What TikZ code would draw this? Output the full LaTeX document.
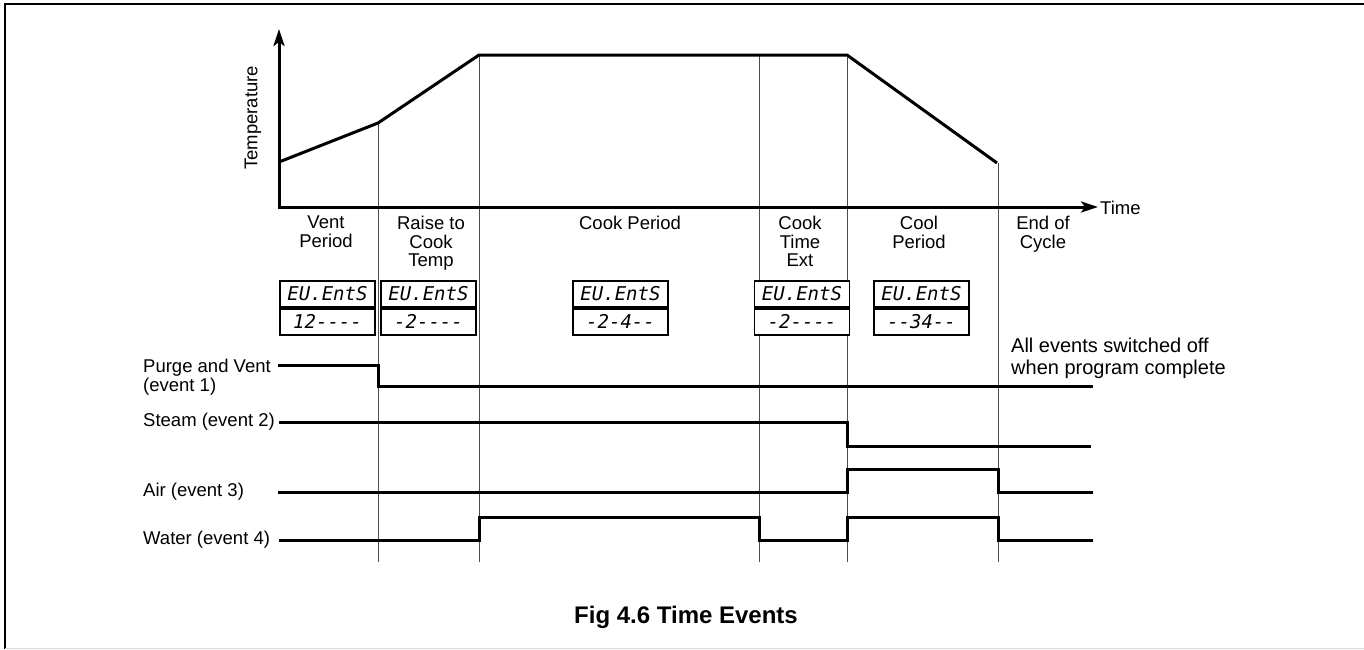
\documentclass[tikz,border=0pt]{standalone}
\usepackage{fontspec}
\setmainfont{Liberation Sans}
\newfontfamily\segfont{DejaVu Sans Mono}
\usetikzlibrary{positioning, arrows.meta, calc}

\tikzset{
  gridline/.style={line width=0.9pt, black!70},
  trace/.style={line width=3pt, line join=miter},
  phase/.style={font=\fontsize{18.5}{18.5}\selectfont, align=center, inner sep=0pt, anchor=north},
  evlabel/.style={font=\fontsize{18.5}{18.5}\selectfont, align=left, inner sep=0pt},
  segbox/.style={draw, line width=1.8pt, fill=white, minimum width=95pt, minimum height=26pt,
                 inner sep=0pt, font=\segfont\itshape\fontsize{19}{19}\selectfont},
  axistip/.tip={Stealth[length=17pt, width=11pt, inset=4pt]},
}

\begin{document}
\begin{tikzpicture}[x=1pt, y=-1pt]
  \useasboundingbox (0,0) rectangle (1364,649);

  % frame
  \draw[line width=2pt] (5,649) -- (5,4) -- (1364,4);
  \draw[black!15, line width=0.8pt] (5,648) -- (1364,648);

  % phase boundaries
  \draw[gridline] (378,123) -- (378,562);
  \draw[gridline] (479,55) -- (479,562);
  \draw[gridline] (759,55) -- (759,562);
  \draw[gridline] (847,55) -- (847,562);
  \draw[gridline] (998,163) -- (998,562);

  % axes and temperature profile
  \draw[line width=3pt, line join=miter, axistip-axistip]
    (279,29) -- (279,207) -- (1098,207);
  \draw[line width=3pt, line join=miter] (279,162) -- (378,123) -- (479,55) -- (847,55) -- (997,163);
  \node[font=\fontsize{18.5}{18.5}\selectfont, rotate=90] (temp) at (253,118) {Temperature};
  \node[font=\fontsize{18.5}{18.5}\selectfont, anchor=west, inner sep=0pt] (time) at (1100,208) {Time};

  % phase names
  \node[phase] (vent) at (326,216) {Vent\\Period};
  \node[phase] (raise) at (431,216) {Raise to\\Cook\\Temp};
  \node[phase] (cook) at (630,216) {Cook Period};
  \node[phase] (ext) at (800,216) {Cook\\Time\\Ext};
  \node[phase] (cool) at (919,216) {Cool\\Period};
  \node[phase] (endc) at (1043,216) {End of\\Cycle};

  % event displays
  \node[segbox] (d1) at (327.5,294) {EU.EntS};
  \node[segbox, below=0pt of d1] (d1b) {12----};
  \node[segbox] (d2) at (428.5,294) {EU.EntS};
  \node[segbox, below=0pt of d2] (d2b) {-2----};
  \node[segbox] (d3) at (620.5,294) {EU.EntS};
  \node[segbox, below=0pt of d3] (d3b) {-2-4--};
  \node[segbox] (d4) at (802,294) {EU.EntS};
  \node[segbox, below=0pt of d4] (d4b) {-2----};
  \node[segbox] (d5) at (921.5,294) {EU.EntS};
  \node[segbox, below=0pt of d5] (d5b) {--34--};

  \node[evlabel, anchor=base west, font=\fontsize{20}{21.5}\selectfont] (note) at (1011,374)
    {All events switched off\\when program complete};

  % event traces
  \node[evlabel, anchor=base west] (purge) at (143,391) {Purge and Vent\\(event 1)};
  \node[evlabel, anchor=west] (steam) at (143,422) {Steam (event 2)};
  \node[evlabel, anchor=west] (air) at (143,492) {Air (event 3)};
  \node[evlabel, anchor=west] (water) at (143,540) {Water (event 4)};

  \draw[trace] (278,365) -- (378,365) -- (378,386) -- (1093,386);
  \draw[trace] (279,422) -- (847,422) -- (847,446) -- (1091,446);
  \draw[trace] (278,492) -- (847,492) -- (847,469) -- (998,469) -- (998,492) -- (1093,492);
  \draw[trace] (279,540) -- (479,540) -- (479,517) -- (759,517) -- (759,540) -- (847,540)
    -- (847,517) -- (998,517) -- (998,540) -- (1093,540);

  \node[font=\bfseries\fontsize{24}{24}\selectfont] (caption) at (686,617) {Fig 4.6 Time Events};
\end{tikzpicture}
\end{document}
